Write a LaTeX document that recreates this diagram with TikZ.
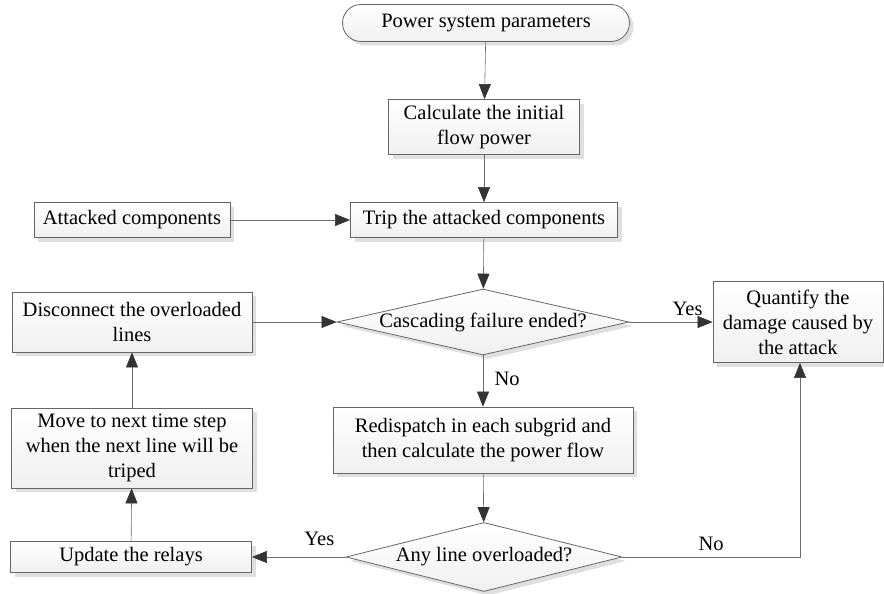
\documentclass[tikz,border=0pt]{standalone}
\usepackage{fontspec}
\setmainfont{Liberation Serif}
\usetikzlibrary{arrows.meta, shapes.geometric, shapes.misc, shadows, positioning}

\begin{document}
\begin{tikzpicture}[x=1pt, y=-1pt,
    font=\fontsize{20.5}{25}\selectfont,
    flowbox/.style={draw=gray!80!black, thick, align=center, inner sep=2pt,
        top color=white, bottom color=gray!12,
        drop shadow={shadow xshift=4pt, shadow yshift=-4pt, fill=gray!25, opacity=1}},
    decision/.style={flowbox, diamond, inner sep=0pt, aspect=4.4},
    flowline/.style={-{Triangle[length=15pt, width=12pt, color=black!80]}, semithick, color=gray!85!black},
    flowlabel/.style={text=black}]

    % =================================================================
    % 1. KHUNG HINH
    % =================================================================
    \useasboundingbox (0,0) rectangle (884,594);

    % =================================================================
    % 2. CAC KHOI CHINH
    % =================================================================
    \node[flowbox, rounded rectangle, minimum width=291pt, minimum height=37pt] (Params) at (486,23) {Power system parameters};
    \node[flowbox, minimum width=191pt, minimum height=55pt] (InitFlow) at (484,127) {Calculate the initial\\flow power};
    \node[flowbox, minimum width=267pt, minimum height=35pt] (Trip) at (484,220) {Trip the attacked components};
    \node[flowbox, minimum width=196pt, minimum height=35pt] (Attacked) at (132,220) {Attacked components};
    \node[decision, minimum width=292pt, minimum height=65pt] (Cascade) at (483,322) {Cascading failure ended?};
    \node[flowbox, minimum width=170pt, minimum height=81pt] (Quantify) at (798,322) {Quantify the\\damage caused by\\the attack};
    \node[flowbox, minimum width=240pt, minimum height=60pt] (Disconnect) at (132,322) {Disconnect the overloaded\\lines};
    \node[flowbox, minimum width=300pt, minimum height=66pt] (Redispatch) at (483,440) {Redispatch in each subgrid and\\then calculate the power flow};
    \node[flowbox, minimum width=241pt, minimum height=80pt] (NextStep) at (132,448) {Move to next time step\\when the next line will be\\triped};
    \node[decision, minimum width=276pt, minimum height=69pt] (Overload) at (484,557) {Any line overloaded?};
    \node[flowbox, minimum width=241pt, minimum height=31pt] (Relays) at (131,557) {Update the relays};

    % =================================================================
    % 3. CAC MUI TEN NOI
    % =================================================================
    \draw[flowline] (Params) -- (InitFlow);
    \draw[flowline] (InitFlow) -- (Trip);
    \draw[flowline] (Attacked) -- (Trip);
    \draw[flowline] (Trip) -- (Cascade);
    \draw[flowline] (Cascade) -- node[flowlabel, above=3pt, pos=0.7] (YesTop) {Yes} (Quantify);
    \draw[flowline] (Cascade) -- node[flowlabel, right=8pt, pos=0.45] (NoTop) {No} (Redispatch);
    \draw[flowline] (Redispatch) -- (Overload);
    \draw[flowline] (Overload) -- node[flowlabel, above=8pt, pos=0.28] (YesBot) {Yes} (Relays);
    \draw[flowline] (Overload.east) -| node[flowlabel, above=3pt, pos=0.25] (NoBot) {No} (Quantify.south -| 800,0);
    \draw[flowline] (Relays) -- (NextStep);
    \draw[flowline] (NextStep) -- (Disconnect);
    \draw[flowline] (Disconnect) -- (Cascade);

\end{tikzpicture}
\end{document}
